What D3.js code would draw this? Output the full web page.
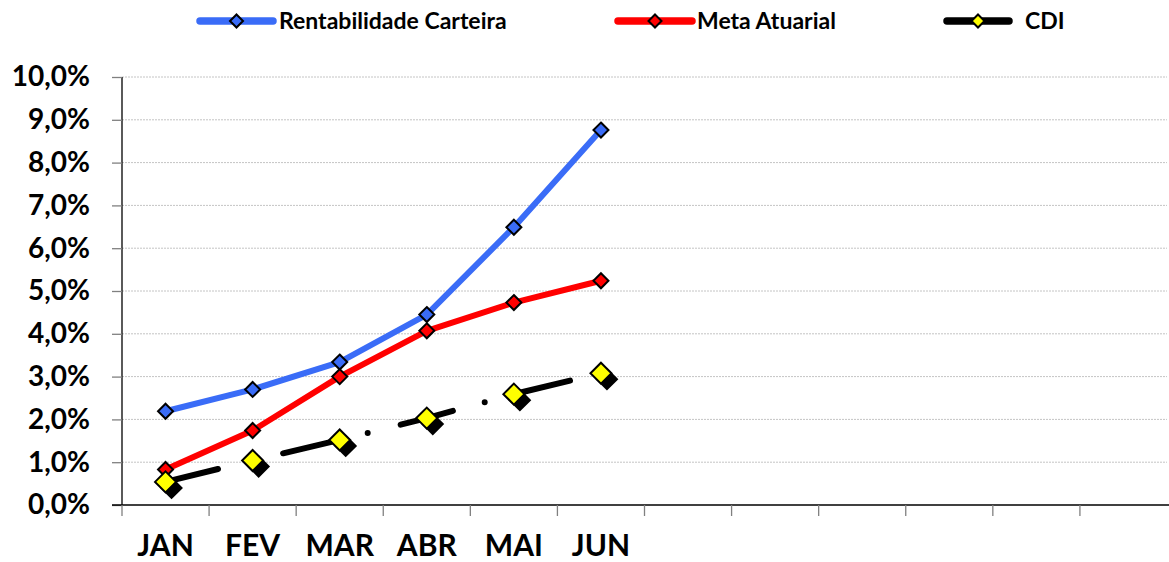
<!DOCTYPE html>
<html>
<head>
<meta charset="utf-8">
<script src="https://cdn.jsdelivr.net/npm/d3@7"></script>
<style>
  html, body { margin: 0; padding: 0; background: #fff; }
  svg { display: block; font-family: Lato, "Liberation Sans", Arial, sans-serif; }
</style>
</head>
<body>
<svg id="chart" width="1169" height="562"></svg>
<script>
// ---- data ----
const months = ["JAN","FEV","MAR","ABR","MAI","JUN","JUL","AGO","SET","OUT","NOV","DEZ"];
const monthLabels = ["JAN","FEV","MAR","ABR","MAI","JUN","","","","","",""];
const rentabilidade = [2.19, 2.70, 3.34, 4.45, 6.49, 8.76];
const metaAtuarial = [0.83, 1.74, 3.00, 4.07, 4.73, 5.24];
const cdi = [0.54, 1.04, 1.52, 2.03, 2.59, 3.08];
const yTicks = [0,1,2,3,4,5,6,7,8,9,10];
const seriesNames = ["Rentabilidade Carteira", "Meta Atuarial", "CDI"];

// ---- layout ----
const svg = d3.select("#chart");
const pLeft = 122, pRight = 1167, pTop = 77, pBottom = 505;
const FONT = "Lato, 'Liberation Sans', Arial, sans-serif";

const x = d3.scaleBand().domain(months).range([pLeft, pRight]).padding(0);
const y = d3.scaleLinear().domain([0, 10]).range([pBottom, pTop]);
const xc = (d, i) => x(months[i]) + x.bandwidth() / 2;

// gridlines
svg.append("g").selectAll("line").data(yTicks.filter(t => t > 0)).join("line")
  .attr("x1", pLeft).attr("x2", pRight)
  .attr("y1", d => y(d)).attr("y2", d => y(d))
  .attr("stroke", "#c4c4c4").attr("stroke-width", 1).attr("stroke-dasharray", "2,1");

// y axis
const fmt = d => d3.format(".1f")(d).replace(".", ",") + "%";
const yAxis = svg.append("g").attr("transform", `translate(${pLeft},0)`)
  .call(d3.axisLeft(y).tickValues(yTicks).tickFormat(fmt).tickSize(10).tickPadding(22));
yAxis.select(".domain").attr("stroke", "#000").attr("stroke-width", 1.3)
  .attr("d", `M0,${pTop}V${pBottom}`);
yAxis.selectAll(".tick line").attr("stroke", "#808080").attr("stroke-width", 1.3);
yAxis.selectAll(".tick text").attr("fill", "#000").attr("font-size", 28).attr("font-weight", "bold")
  .attr("font-family", FONT);

// x axis line and ticks at band boundaries
svg.append("line").attr("x1", pLeft - 10).attr("x2", 1169).attr("y1", pBottom).attr("y2", pBottom)
  .attr("stroke", "#000").attr("stroke-width", 1.3);
const boundaries = months.map(m => x(m));
svg.append("g").selectAll("line").data(boundaries).join("line")
  .attr("x1", d => d).attr("x2", d => d).attr("y1", pBottom).attr("y2", pBottom + 11)
  .attr("stroke", "#808080").attr("stroke-width", 1.3);
svg.append("g").selectAll("text").data(monthLabels).join("text")
  .attr("x", (d, i) => x(months[i]) + x.bandwidth() / 2)
  .attr("y", 556)
  .attr("text-anchor", "middle").attr("font-size", 30).attr("font-weight", "bold")
  .attr("font-family", FONT)
  .text(d => d);

const line = d3.line().x((d, i) => xc(d, i)).y(d => y(d));
const diamond = (cx, cy, r) => `M${cx},${cy - r}L${cx + r},${cy}L${cx},${cy + r}L${cx - r},${cy}Z`;

// Rentabilidade
svg.append("path").datum(rentabilidade).attr("d", line)
  .attr("fill", "none").attr("stroke", "#3A6CF7").attr("stroke-width", 6).attr("stroke-linejoin", "round");
// Meta
svg.append("path").datum(metaAtuarial).attr("d", line)
  .attr("fill", "none").attr("stroke", "#FF0000").attr("stroke-width", 6).attr("stroke-linejoin", "round");
// CDI
svg.append("path").datum(cdi).attr("d", line)
  .attr("fill", "none").attr("stroke", "#000").attr("stroke-width", 6)
  .attr("stroke-linecap", "round").attr("stroke-dasharray", "54,33,0,34");

// markers
svg.append("g").selectAll("path").data(rentabilidade).join("path")
  .attr("d", (d, i) => diamond(xc(d, i), y(d), 7.5))
  .attr("fill", "#3A6CF7").attr("stroke", "#000").attr("stroke-width", 2);
svg.append("g").selectAll("path").data(metaAtuarial).join("path")
  .attr("d", (d, i) => diamond(xc(d, i), y(d), 7.5))
  .attr("fill", "#FF0000").attr("stroke", "#000").attr("stroke-width", 2);
svg.append("g").selectAll("path").data(cdi).join("path")
  .attr("d", (d, i) => diamond(xc(d, i) + 6, y(d) + 6, 10))
  .attr("fill", "#000").attr("stroke", "#000").attr("stroke-width", 2);
svg.append("g").selectAll("path").data(cdi).join("path")
  .attr("d", (d, i) => diamond(xc(d, i), y(d), 10.5))
  .attr("fill", "#FFFF00").attr("stroke", "#000").attr("stroke-width", 2);

// legend
const legendItems = [
  { name: seriesNames[0], color: "#3A6CF7", fill: "#3A6CF7", x1: 200, x2: 273, tx: 279 },
  { name: seriesNames[1], color: "#FF0000", fill: "#FF0000", x1: 618, x2: 692, tx: 697 },
  { name: seriesNames[2], color: "#000", fill: "#FFFF00", x1: 947, x2: 1009, tx: 1025 }
];
const lg = svg.append("g");
legendItems.forEach(it => {
  lg.append("line").attr("x1", it.x1).attr("x2", it.x2).attr("y1", 21).attr("y2", 21)
    .attr("stroke", it.color).attr("stroke-width", 7.5).attr("stroke-linecap", "round");
  lg.append("path").attr("d", diamond((it.x1 + it.x2) / 2, 21, 6.5))
    .attr("fill", it.fill).attr("stroke", "#000").attr("stroke-width", 2);
  lg.append("text").attr("x", it.tx).attr("y", 29)
    .attr("font-size", 23).attr("font-weight", "bold").attr("font-family", FONT).text(it.name);
});
</script>
</body>
</html>
